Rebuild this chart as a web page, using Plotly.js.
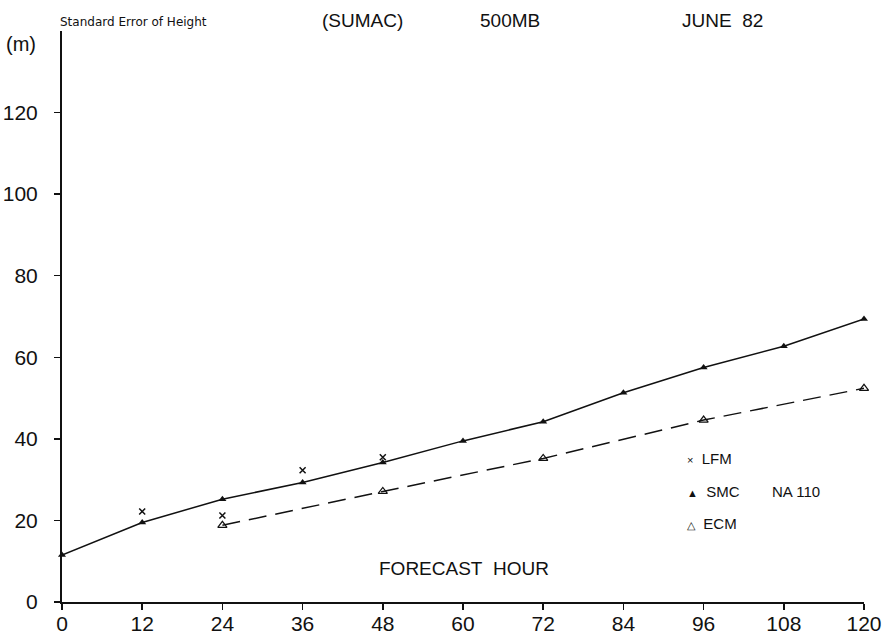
<!DOCTYPE html>
<html><head><meta charset="utf-8">
<script src="https://cdn.plot.ly/plotly-3.0.1.min.js"></script>
<style>html,body{margin:0;padding:0;background:#fff}</style>
</head><body>
<div id="chart" style="width:886px;height:641px"></div>
<script>
const xTicks = [0, 12, 24, 36, 48, 60, 72, 84, 96, 108, 120];
const yTicks = [0, 20, 40, 60, 80, 100, 120];
const smcHours = [0, 12, 24, 36, 48, 60, 72, 84, 96, 108, 120];
const smcValues = [11.5, 19.5, 25.2, 29.3, 34.2, 39.5, 44.2, 51.3, 57.5, 62.7, 69.4];
const ecmHours = [24, 48, 72, 96, 120];
const ecmValues = [18.8, 27.1, 35.2, 44.6, 52.4];
const lfmHours = [12, 24, 36, 48];
const lfmValues = [22.2, 21.2, 32.3, 35.5];

const font = "Liberation Sans, Arial, sans-serif";
const traces = [
  {x: smcHours, y: smcValues, mode: 'lines+markers', name: 'SMC', cliponaxis: false,
   line: {color: '#111', width: 1.5},
   marker: {symbol: 'triangle-up', size: 7, color: '#111'}},
  {x: ecmHours, y: ecmValues, mode: 'lines+markers', name: 'ECM', cliponaxis: false,
   line: {color: '#111', width: 1.5, dash: '18px,9px'},
   marker: {symbol: 'triangle-up-open', size: 8, color: '#111', line: {width: 1.2}}},
  {x: lfmHours, y: lfmValues, mode: 'markers', name: 'LFM', cliponaxis: false,
   marker: {symbol: 'x-thin-open', size: 6, color: '#111', line: {width: 1.5, color: '#111'}}}
];

const ann = (text, x, y, size, xanchor, fam) => ({
  text: text, xref: 'paper', yref: 'paper', x: x, y: y, showarrow: false,
  xanchor: xanchor || 'left', yanchor: 'middle', font: {family: fam || font, size: size, color: '#111'}
});
const W = 886, H = 641;
const PW = 802, PH = 571;
const sym = (s) => '<span style="font-size:11px">' + s + '</span>';
const layout = {
  width: W, height: H,
  margin: {l: 62, r: 22, t: 31, b: 39},
  paper_bgcolor: '#fff', plot_bgcolor: '#fff',
  showlegend: false,
  xaxis: {range: [0, 120], tickvals: xTicks, ticktext: xTicks.map(String),
    showgrid: false, zeroline: false, showline: true, linecolor: '#111', linewidth: 2,
    ticks: 'outside', ticklen: 6, tickcolor: '#111', tickwidth: 1.5, ticklabelstandoff: -4,
    tickfont: {family: font, size: 21, color: '#111'}},
  yaxis: {range: [0, 140], tickvals: yTicks, ticktext: yTicks.map(String),
    showgrid: false, zeroline: false, showline: true, linecolor: '#111', linewidth: 2,
    ticks: 'outside', ticklen: 6, tickcolor: '#111', tickwidth: 1.5, ticklabelstandoff: 12,
    tickfont: {family: font, size: 21, color: '#111'}},
  annotations: [
    ann('(m)', -58/PW, 1 - (44-31)/PH, 20),
    ann('Standard Error of Height', -4/PW, 1 + 9/PH, 12, 'left', 'DejaVu Sans, sans-serif'),
    ann('(SUMAC)', (320-62)/PW, 1 + 10/PH, 19),
    ann('500MB', (478-62)/PW, 1 + 10/PH, 19),
    ann('JUNE&nbsp;&nbsp;82', (680-62)/PW, 1 + 10/PH, 19),
    ann('FORECAST&nbsp;&nbsp;HOUR', (464-62)/PW, (602-568)/PH, 19, 'center'),
    ann(sym('×') + '&nbsp;&nbsp;LFM', (685-62)/PW, (602-458)/PH, 15),
    ann(sym('▲') + '&nbsp;&nbsp;SMC', (685-62)/PW, (602-491)/PH, 15),
    ann('NA 110', (770-62)/PW, (602-491)/PH, 15),
    ann(sym('△') + '&nbsp;&nbsp;ECM', (685-62)/PW, (602-523)/PH, 15)
  ]
};
Plotly.newPlot('chart', traces, layout, {displayModeBar: false, staticPlot: true});
</script>
</body></html>
